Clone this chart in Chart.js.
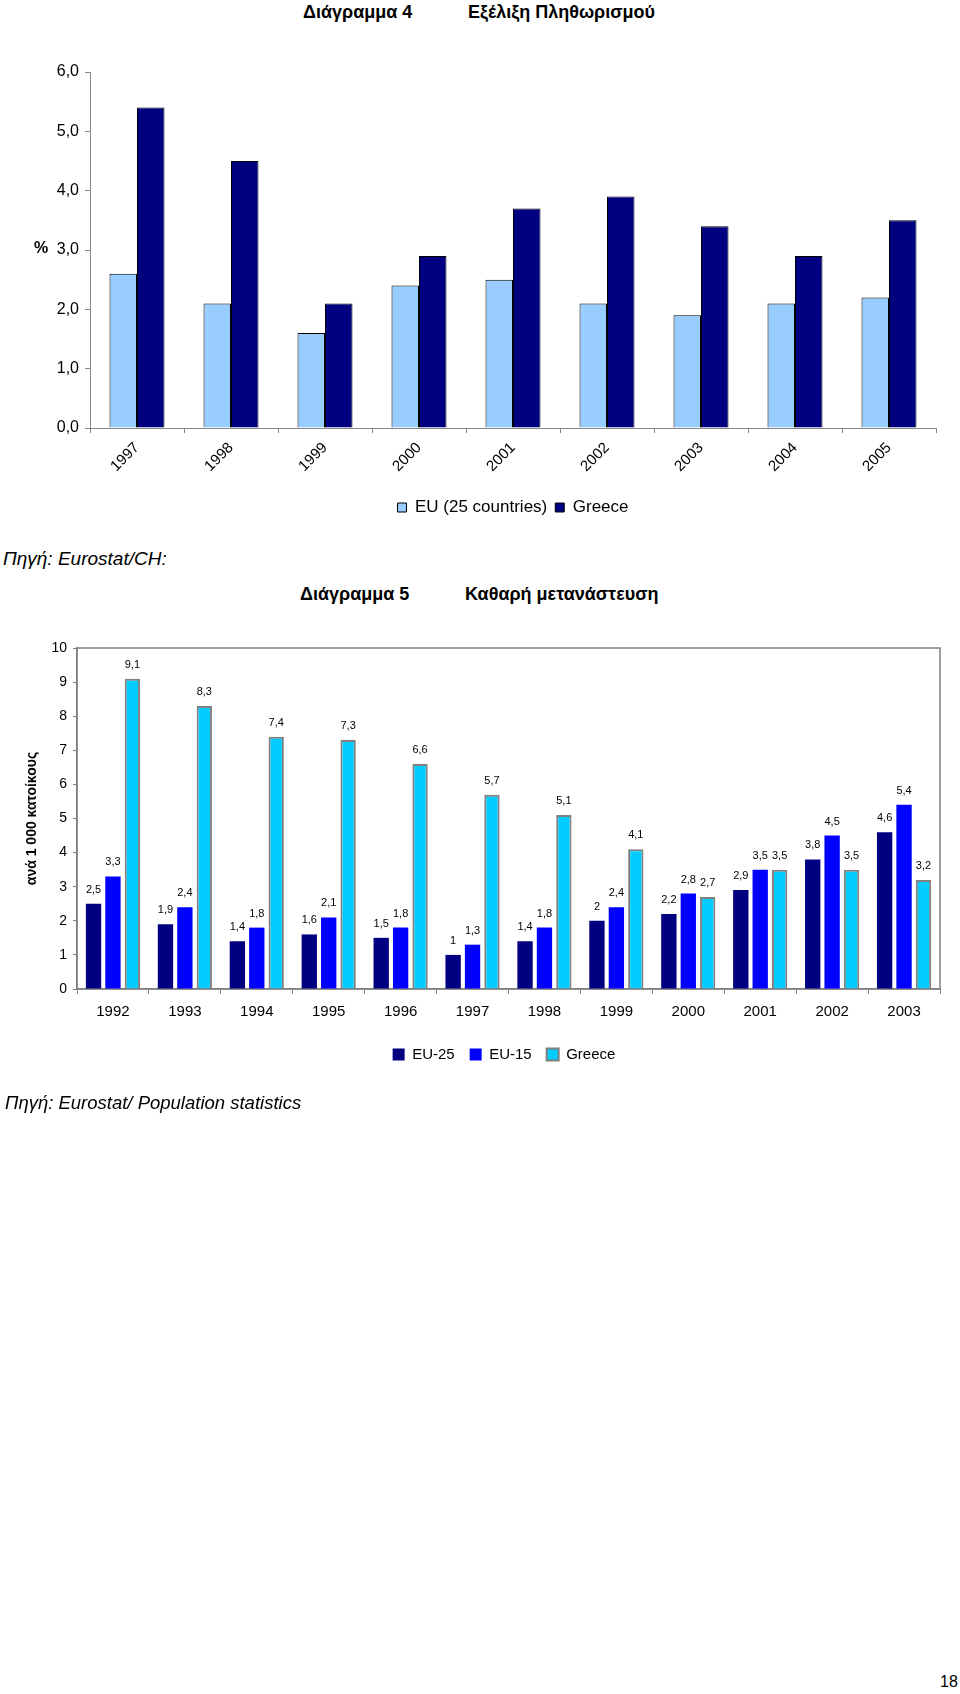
<!DOCTYPE html>
<html lang="el">
<head>
<meta charset="utf-8">
<title>Διάγραμμα 4 - Διάγραμμα 5</title>
<script src="https://cdn.jsdelivr.net/npm/chart.js@4.4.1/dist/chart.umd.min.js"></script>
<style>
  body { margin: 0; background: #fff; font-family: "Liberation Sans", Arial, sans-serif; }
  #page { position: relative; width: 960px; height: 1694px; overflow: hidden; }
  .txt { position: absolute; line-height: 20px; white-space: nowrap; color: #000; }
  .title { font-weight: bold; font-size: 18px; }
  .src { font-style: italic; font-size: 18.5px; }
  canvas { position: absolute; left: 0; }
</style>
</head>
<body>
<div id="page">
  <span class="txt title" style="left:303px;top:2px">Διάγραμμα 4</span>
  <span class="txt title" style="left:468px;top:2px">Εξέλιξη Πληθωρισμού</span>
  <canvas id="inflationChart" width="960" height="500" style="top:40px"></canvas>
  <span class="txt" style="left:34px;top:238px;font-weight:bold;font-size:16px">%</span>
  <span class="txt src" style="left:3px;top:549px;font-size:19px">Πηγή: Eurostat/CH:</span>

  <span class="txt title" style="left:300px;top:584px">Διάγραμμα 5</span>
  <span class="txt title" style="left:465px;top:584px">Καθαρή μετανάστευση</span>
  <canvas id="migrationChart" width="960" height="480" style="top:620px"></canvas>
  <span class="txt src" style="left:5px;top:1093px">Πηγή: Eurostat/ Population statistics</span>

  <span class="txt" style="left:940px;top:1672px;font-size:16px">18</span>
</div>
<script>
// Διάγραμμα 4 - inflation (%)
const inflYears = ['1997', '1998', '1999', '2000', '2001', '2002', '2003', '2004', '2005'];
const inflEU25 = [2.6, 2.1, 1.6, 2.4, 2.5, 2.1, 1.9, 2.1, 2.2];
const inflGreece = [5.4, 4.5, 2.1, 2.9, 3.7, 3.9, 3.4, 2.9, 3.5];
const inflTickMin = 0, inflTickMax = 6, inflTickStep = 1;

// Διάγραμμα 5 - net migration per 1 000 inhabitants
const migYears = ['1992', '1993', '1994', '1995', '1996', '1997', '1998', '1999', '2000', '2001', '2002', '2003'];
const migEU25 = [2.5, 1.9, 1.4, 1.6, 1.5, 1, 1.4, 2, 2.2, 2.9, 3.8, 4.6];
const migEU15 = [3.3, 2.4, 1.8, 2.1, 1.8, 1.3, 1.8, 2.4, 2.8, 3.5, 4.5, 5.4];
const migGreece = [9.1, 8.3, 7.4, 7.3, 6.6, 5.7, 5.1, 4.1, 2.7, 3.5, 3.5, 3.2];
const migTickMin = 0, migTickMax = 10, migTickStep = 1;

const FONT = '"Liberation Sans", Arial, sans-serif';
Chart.defaults.font.family = FONT;
Chart.defaults.color = '#000';

function comma(v) {
    return String(v).replace('.', ',');
}

// grey frame round the plot area
const plotFrame = {
    id: 'plotFrame',
    beforeDatasetsDraw(chart) {
        const { ctx, chartArea: a } = chart;
        ctx.save();
        ctx.strokeStyle = '#808080';
        ctx.lineWidth = 1.5;
        ctx.strokeRect(a.left, a.top, a.right - a.left, a.bottom - a.top);
        ctx.restore();
    }
};

// value above every bar
const valueLabels = {
    id: 'valueLabels',
    afterDatasetsDraw(chart) {
        const ctx = chart.ctx;
        ctx.save();
        ctx.font = '11px ' + FONT;
        ctx.fillStyle = '#000';
        ctx.textAlign = 'center';
        ctx.textBaseline = 'alphabetic';
        chart.data.datasets.forEach((ds, i) => {
            chart.getDatasetMeta(i).data.forEach((bar, j) => {
                ctx.fillText(comma(ds.data[j]), bar.x, bar.y - 11);
            });
        });
        ctx.restore();
    }
};

// the legends in the original sit a bit right of centre
const legendShift = {
    id: 'legendShift',
    afterLayout(chart, args, opts) {
        const dx = opts.dx || 0;
        if (chart.legend) {
            chart.legend.left += dx;
            chart.legend.right += dx;
        }
    }
};

new Chart(document.getElementById('inflationChart'), {
    type: 'bar',
    data: {
        labels: inflYears,
        datasets: [{
            label: 'EU (25 countries)',
            data: inflEU25,
            backgroundColor: '#99CCFF',
            borderColor: '#000000',
            borderWidth: 1
        }, {
            label: 'Greece',
            data: inflGreece,
            backgroundColor: '#000080',
            borderColor: '#000000',
            borderWidth: 1
        }]
    },
    options: {
        responsive: false,
        animation: false,
        layout: { padding: { top: 32, right: 24, bottom: 14, left: 0 } },
        datasets: { bar: { categoryPercentage: 0.585, barPercentage: 1 } },
        scales: {
            x: {
                grid: { offset: true, drawOnChartArea: false, tickLength: 5, color: '#888888' },
                border: { color: '#888888' },
                ticks: { minRotation: 45, maxRotation: 45, padding: 6, font: { size: 15 } },
                afterFit: s => { s.height = 63; }
            },
            y: {
                min: inflTickMin,
                max: inflTickMax,
                ticks: {
                    stepSize: inflTickStep,
                    padding: 6,
                    font: { size: 16 },
                    callback: v => v.toFixed(1).replace('.', ',')
                },
                grid: { drawOnChartArea: false, tickLength: 5, color: '#888888' },
                border: { color: '#888888' },
                afterFit: s => { s.width = 90; }
            }
        },
        plugins: {
            legend: {
                position: 'bottom',
                labels: { boxWidth: 9, boxHeight: 9, padding: 8, font: { size: 17 } }
            },
            legendShift: { dx: 45 },
            tooltip: { enabled: false }
        }
    },
    plugins: [legendShift]
});

new Chart(document.getElementById('migrationChart'), {
    type: 'bar',
    data: {
        labels: migYears,
        datasets: [{
            label: 'EU-25',
            data: migEU25,
            backgroundColor: '#000080',
            borderWidth: 0
        }, {
            label: 'EU-15',
            data: migEU15,
            backgroundColor: '#0000FF',
            borderWidth: 0
        }, {
            label: 'Greece',
            data: migGreece,
            backgroundColor: '#00CCFF',
            borderColor: '#808080',
            borderWidth: 2
        }]
    },
    options: {
        responsive: false,
        animation: false,
        layout: { padding: { top: 28, right: 20, bottom: 28, left: 0 } },
        datasets: { bar: { categoryPercentage: 0.81, barPercentage: 0.79 } },
        scales: {
            x: {
                grid: { offset: true, drawOnChartArea: false, tickLength: 5, color: '#808080' },
                border: { color: '#808080', width: 1.5 },
                ticks: { maxRotation: 0, padding: 9, font: { size: 15 } },
                afterFit: s => { s.height = 43; }
            },
            y: {
                min: migTickMin,
                max: migTickMax,
                ticks: { stepSize: migTickStep, padding: 6, font: { size: 14 } },
                grid: { drawOnChartArea: false, tickLength: 4, color: '#808080' },
                border: { color: '#808080', width: 1.5 },
                title: {
                    display: true,
                    text: 'ανά 1 000 κατοίκους',
                    font: { size: 14, weight: 'bold' },
                    padding: { top: 24, bottom: 0 }
                },
                afterFit: s => { s.width = 77; }
            }
        },
        plugins: {
            legend: {
                position: 'bottom',
                labels: { boxWidth: 12, boxHeight: 12, padding: 15, font: { size: 15 } }
            },
            legendShift: { dx: 34 },
            tooltip: { enabled: false }
        }
    },
    plugins: [plotFrame, valueLabels, legendShift]
});
</script>
</body>
</html>
